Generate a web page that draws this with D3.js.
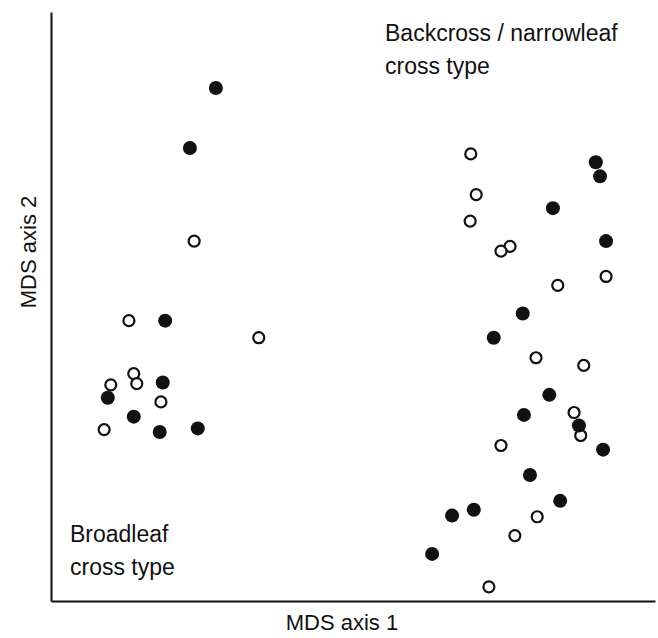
<!DOCTYPE html>
<html>
<head>
<meta charset="utf-8">
<script src="https://cdn.jsdelivr.net/npm/d3@7"></script>
<style>
  body { margin: 0; background: #fff; }
  text { font-family: "Liberation Sans", Arial, Helvetica, sans-serif; fill: #111; }
</style>
</head>
<body>
<svg id="chart"></svg>
<script>
// MDS scores (arbitrary units 0-100)
const filledX = [27.3, 23.0, 18.9, 18.5, 9.4, 13.7, 18.0, 24.3,
                 90.2, 90.9, 83.1, 91.9, 78.1, 73.3, 82.5, 78.3, 87.4, 91.4, 79.3, 84.3, 70.0, 66.4, 63.1];
const filledY = [87.1, 76.9, 47.6, 37.1, 34.5, 31.3, 28.7, 29.3,
                 74.5, 72.1, 66.7, 61.1, 48.8, 44.7, 35.0, 31.6, 29.8, 25.7, 21.4, 17.0, 15.5, 14.5, 8.0];
const openX = [23.7, 12.9, 34.4, 13.7, 9.9, 14.2, 18.2, 8.8,
               69.5, 70.4, 69.4, 76.0, 74.5, 91.9, 83.9, 80.3, 88.2, 86.6, 87.7, 74.5, 80.5, 76.8, 72.5];
const openY = [61.1, 47.6, 44.7, 38.6, 36.7, 36.9, 33.8, 29.1,
               75.9, 69.0, 64.5, 60.2, 59.4, 55.1, 53.6, 41.3, 40.0, 32.0, 28.1, 26.4, 14.3, 11.1, 2.4];
const xTitle = 'MDS axis 1';
const yTitle = 'MDS axis 2';
const groupLabels = [['Broadleaf', 'cross type'], ['Backcross / narrowleaf', 'cross type']];

const w = 658, h = 638;
const svg = d3.select('#chart').attr('width', w).attr('height', h);

// scales
const x = d3.scaleLinear().domain([0, 100]).range([51, 655]);
const y = d3.scaleLinear().domain([0, 100]).range([601, 12]);

// axes: just the lines, no ticks
const xAxis = d3.axisBottom(x).ticks(0).tickSizeOuter(0);
const yAxis = d3.axisLeft(y).ticks(0).tickSizeOuter(0);
svg.append('g')
    .attr('transform', `translate(0,${y(0)})`)
    .call(xAxis)
    .select('.domain').attr('stroke', '#111').attr('stroke-width', 2);
svg.append('g')
    .attr('transform', `translate(${x(0)},0)`)
    .call(yAxis)
    .select('.domain').attr('stroke', '#111').attr('stroke-width', 2);

// open circles
svg.selectAll('.open')
    .data(openX.map((v, i) => [v, openY[i]]))
    .join('circle')
        .attr('class', 'open')
        .attr('cx', d => x(d[0]))
        .attr('cy', d => y(d[1]))
        .attr('r', 5.5)
        .attr('fill', '#fff')
        .attr('stroke', '#111')
        .attr('stroke-width', 2.2);

// filled circles
svg.selectAll('.filled')
    .data(filledX.map((v, i) => [v, filledY[i]]))
    .join('circle')
        .attr('class', 'filled')
        .attr('cx', d => x(d[0]))
        .attr('cy', d => y(d[1]))
        .attr('r', 7)
        .attr('fill', '#111');

// axis titles
svg.append('text')
    .attr('x', 342).attr('y', 630)
    .attr('text-anchor', 'middle')
    .style('font-size', '22px')
    .text(xTitle);
svg.append('text')
    .attr('transform', 'translate(36,252) rotate(-90)')
    .attr('text-anchor', 'middle')
    .style('font-size', '22px')
    .text(yTitle);

// group labels
const lab1 = svg.append('text').style('font-size', '23px');
lab1.selectAll('tspan').data(groupLabels[0]).join('tspan')
    .attr('x', 70).attr('y', (d, i) => 542 + i * 33).text(d => d);
const lab2 = svg.append('text').style('font-size', '23px');
lab2.selectAll('tspan').data(groupLabels[1]).join('tspan')
    .attr('x', 385).attr('y', (d, i) => 41 + i * 33).text(d => d);
</script>
</body>
</html>
